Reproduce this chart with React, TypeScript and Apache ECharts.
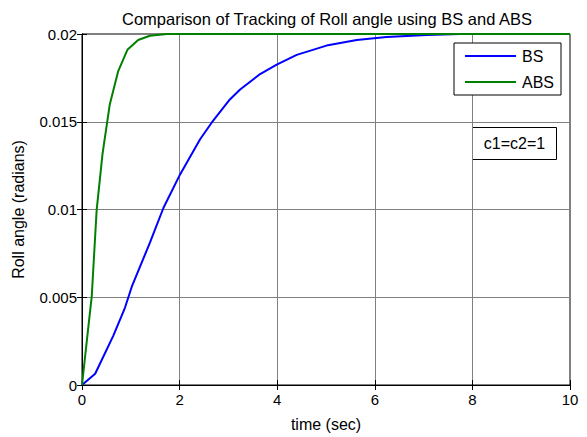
import React, { useEffect, useRef } from "react";
import * as echarts from "echarts";

const bsTime = [0, 0.27, 0.64, 0.88, 1.02, 1.39, 1.67, 2.01, 2.42, 2.66, 3.03, 3.24, 3.65, 3.99, 4.4, 5.01, 5.63, 6.24, 7.06, 7.75, 10];
const bsValues = [0, 0.00064, 0.0028, 0.0044, 0.0056, 0.0081, 0.0101, 0.012, 0.014, 0.01496, 0.01627, 0.01684, 0.01772, 0.01825, 0.01881, 0.01934, 0.01966, 0.01983, 0.01994, 0.02, 0.02];
const absTime = [0, 0.11, 0.2, 0.3, 0.42, 0.57, 0.74, 0.93, 1.15, 1.39, 1.74, 10];
const absValues = [0, 0.0028, 0.00507, 0.00996, 0.01316, 0.016, 0.01787, 0.0191, 0.01966, 0.0199, 0.02, 0.02];
const xTicks = [0, 2, 4, 6, 8, 10];
const yTicks = [0, 0.005, 0.01, 0.015, 0.02];

const FONT = "Liberation Sans, Arial, sans-serif";

export default function App() {
  const ref = useRef<HTMLDivElement>(null);
  useEffect(() => {
    if (!ref.current) return;
    const chart = echarts.init(ref.current, null, { renderer: "svg" });
    const pairs = (t: number[], v: number[]) => t.map((x, i) => [x, v[i]]);
    const axisCommon = {
      axisLine: { show: true, lineStyle: { color: "#000", width: 1 } },
      axisTick: { show: true, inside: true, length: 5, lineStyle: { color: "#000" } },
    };
    chart.setOption({
      animation: false,
      backgroundColor: "#fff",
      textStyle: { fontFamily: FONT },
      title: {
        text: "Comparison of Tracking of Roll angle using BS and ABS",
        left: 322,
        textAlign: "center",
        top: 5,
        textStyle: { fontSize: 16.5, fontWeight: "normal", color: "#000", fontFamily: FONT },
      },
      grid: { left: 82, right: 17, top: 34, bottom: 49, show: true, borderColor: "#000", borderWidth: 1 },
      legend: {
        orient: "vertical",
        left: 454,
        top: 43,
        padding: [5, 7, 5, 11],
        itemGap: 10,
        itemWidth: 51,
        itemHeight: 2,
        icon: "rect",
        borderColor: "#000",
        borderWidth: 1,
        borderRadius: 0,
        backgroundColor: "#fff",
        textStyle: { fontSize: 16, lineHeight: 16, color: "#000", fontFamily: FONT, padding: [0, 0, 0, 1] },
        data: ["BS", "ABS"],
      },
      xAxis: [
        {
          type: "value",
          min: 0,
          max: 10,
          interval: 2,
          name: "time (sec)",
          nameLocation: "middle",
          nameGap: 31,
          nameTextStyle: { fontSize: 16, color: "#000", fontFamily: FONT },
          ...axisCommon,
          axisLabel: { color: "#000", fontSize: 15, margin: 7, fontFamily: FONT, formatter: (v: number) => (xTicks.includes(v) ? String(v) : "") },
          splitLine: { show: true, lineStyle: { color: "#808080", width: 1 } },
        },
        {
          type: "value",
          position: "top",
          min: 0,
          max: 10,
          interval: 2,
          ...axisCommon,
          axisLabel: { show: false },
          splitLine: { show: false },
        },
      ],
      yAxis: [
        {
          type: "value",
          min: 0,
          max: 0.02,
          interval: 0.005,
          name: "Roll angle (radians)",
          nameLocation: "middle",
          nameGap: 56,
          nameTextStyle: { fontSize: 16, color: "#000", fontFamily: FONT },
          ...axisCommon,
          axisLabel: {
            color: "#000",
            fontSize: 15,
            margin: 5,
            fontFamily: FONT,
            formatter: (v: number) => {
              const t = yTicks.find((y) => Math.abs(y - v) < 1e-9);
              return t === undefined ? "" : String(t);
            },
          },
          splitLine: { show: true, lineStyle: { color: "#808080", width: 1 } },
        },
        {
          type: "value",
          position: "right",
          min: 0,
          max: 0.02,
          interval: 0.005,
          ...axisCommon,
          axisLabel: { show: false },
          splitLine: { show: false },
        },
      ],
      series: [
        {
          name: "BS",
          type: "line",
          data: pairs(bsTime, bsValues),
          showSymbol: false,
          symbol: "none",
          color: "#0000ff",
          lineStyle: { color: "#0000ff", width: 2 },
          z: 3,
        },
        {
          name: "ABS",
          type: "line",
          data: pairs(absTime, absValues),
          showSymbol: false,
          symbol: "none",
          color: "#008000",
          lineStyle: { color: "#008000", width: 2 },
          z: 4,
        },
      ],
      graphic: [
        {
          type: "group",
          left: 472,
          top: 127,
          children: [
            { type: "rect", shape: { x: 0, y: 0, width: 84, height: 32 }, style: { fill: "#fff", stroke: "#000", lineWidth: 1 } },
            {
              type: "text",
              x: 42,
              y: 16,
              style: { text: "c1=c2=1", fontSize: 16, fill: "#000", fontFamily: FONT, align: "center", verticalAlign: "middle" },
            },
          ],
        },
      ],
    });
    return () => chart.dispose();
  }, []);
  return <div ref={ref} style={{ width: 587, height: 437, position: "absolute", left: 0, top: 0 }} />;
}
